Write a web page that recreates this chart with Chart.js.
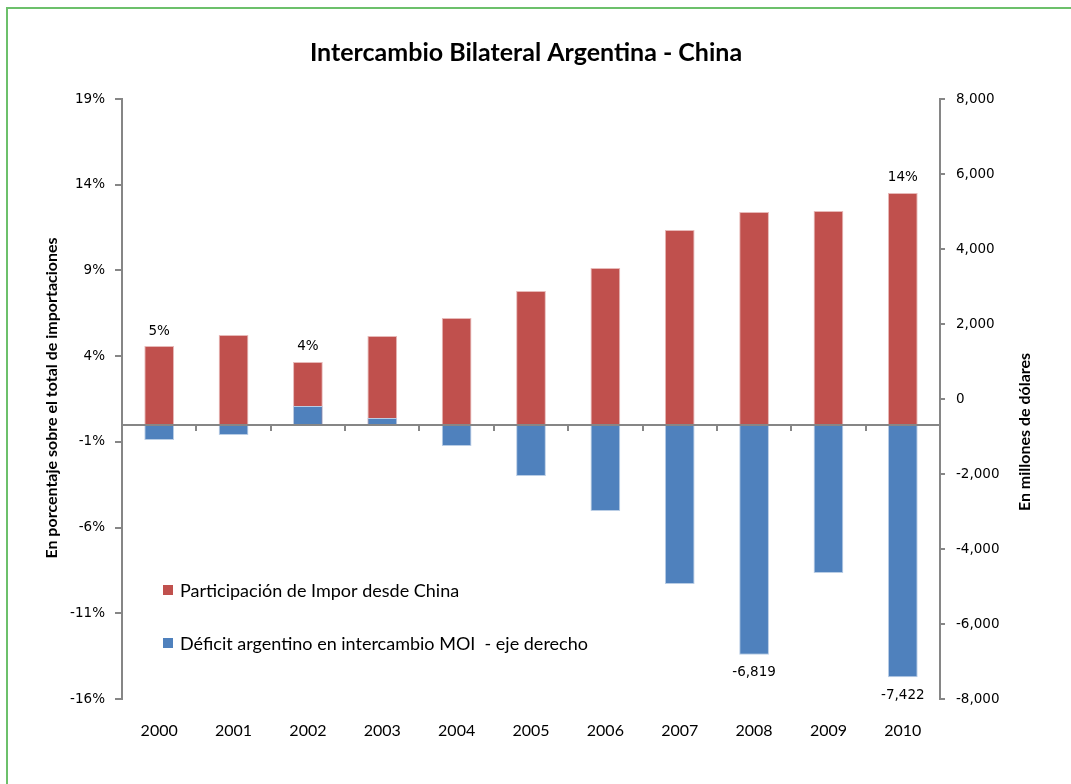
<!DOCTYPE html>
<html><head><meta charset="utf-8">
<script src="https://cdn.jsdelivr.net/npm/chart.js@4.4.1/dist/chart.umd.min.js"></script>
<style>html,body{margin:0;padding:0;background:#fff}#wrap{position:relative;width:1071px;height:784px}canvas{display:block}</style>
</head><body><div id="wrap"><canvas id="c" width="1071" height="784"></canvas></div>
<script>
const years = ['2000','2001','2002','2003','2004','2005','2006','2007','2008','2009','2010'];
const participacion = [4.59, 5.23, 3.66, 5.17, 6.22, 7.80, 9.14, 11.36, 12.41, 12.47, 13.52];
const deficit = [-1093, -960, -187, -507, -1253, -2053, -2987, -4933, -6819, -4640, -7422];
const leftTicks = [19, 14, 9, 4, -1, -6, -11, -16];
const rightTicks = [8000, 6000, 4000, 2000, 0, -2000, -4000, -6000, -8000];
const participacionLabels = ['5%', null, '4%', null, null, null, null, null, null, null, '14%'];
const deficitLabels = [null, null, null, null, null, null, null, null, '-6,819', null, '-7,422'];
const titleText = 'Intercambio Bilateral Argentina - China';
const leftTitle = 'En porcentaje sobre el total de importaciones';
const rightTitle = 'En millones de dólares';
const seriesNames = ['Participación de Impor desde China', 'Déficit argentino en intercambio MOI  - eje derecho'];

const RED = '#C0504D', BLUE = '#4F81BD', AXIS = '#868686';
const lMin = Math.min(...leftTicks), lMax = Math.max(...leftTicks);
const rMin = Math.min(...rightTicks), rMax = Math.max(...rightTicks);
// right-axis value sitting at the left axis' 0 (where the category axis crosses)
const blueBase = rMin + (0 - lMin) / (lMax - lMin) * (rMax - rMin);

const tickFont = {family: 'DejaVu Sans', size: 13.5};

const decor = {
  id: 'decor',
  beforeDraw(chart) {
    const ctx = chart.ctx;
    ctx.save();
    ctx.strokeStyle = '#6cc06b';
    ctx.lineWidth = 2;
    ctx.strokeRect(7, 8, 1200, 1000);
    ctx.restore();
  },
  afterDatasetsDraw(chart) {
    const ctx = chart.ctx, ca = chart.chartArea;
    const y = chart.scales.y;
    const zy = Math.round(y.getPixelForValue(0));
    ctx.save();
    ctx.strokeStyle = AXIS;
    ctx.lineWidth = 2;
    ctx.beginPath();
    ctx.moveTo(ca.left, zy); ctx.lineTo(ca.right, zy);
    const cw = (ca.right - ca.left) / years.length;
    for (let i = 1; i < years.length; i++) {
      const x = Math.round(ca.left + i * cw);
      ctx.moveTo(x, zy); ctx.lineTo(x, zy + 6);
    }
    ctx.stroke();

    ctx.fillStyle = '#000';
    ctx.font = '13.5px "DejaVu Sans"';
    ctx.textAlign = 'center';
    ctx.textBaseline = 'middle';
    const m0 = chart.getDatasetMeta(0), m1 = chart.getDatasetMeta(1);
    participacionLabels.forEach((t, i) => {
      if (!t) return;
      const el = m0.data[i];
      ctx.fillText(t, el.x, el.y - 15);
    });
    deficitLabels.forEach((t, i) => {
      if (!t) return;
      const el = m1.data[i];
      ctx.fillText(t, el.x, el.y + 18);
    });
    ctx.restore();
  },
  afterDraw(chart) {
    const ctx = chart.ctx;
    ctx.save();
    ctx.fillStyle = '#000';
    ctx.textAlign = 'center';
    ctx.textBaseline = 'middle';
    ctx.font = 'bold 25px Lato';
    ctx.fillText(titleText, 526, 53);

    ctx.font = 'bold 16px Lato';
    ctx.save();
    ctx.translate(52, 398);
    ctx.rotate(-Math.PI / 2);
    ctx.fillText(leftTitle, 0, 0);
    ctx.restore();
    ctx.save();
    ctx.translate(1025, 432);
    ctx.rotate(-Math.PI / 2);
    ctx.fillText(rightTitle, 0, 0);
    ctx.restore();

    ctx.textAlign = 'left';
    ctx.font = '18px Lato';
    const items = [[RED, seriesNames[0], 590], [BLUE, seriesNames[1], 643]];
    items.forEach(([c, t, yy]) => {
      ctx.fillStyle = c;
      ctx.fillRect(163, yy - 5, 10, 10);
      ctx.fillStyle = '#000';
      ctx.fillText(t, 180, yy + 1);
    });
    ctx.restore();
  }
};

new Chart(document.getElementById('c'), {
  type: 'bar',
  data: {
    labels: years,
    datasets: [
      {
        label: seriesNames[0], data: participacion, yAxisID: 'y',
        backgroundColor: RED, borderColor: '#e7b9b8', borderWidth: 1,
        grouped: false, order: 1, barPercentage: 0.4, categoryPercentage: 1
      },
      {
        label: seriesNames[1], data: deficit, yAxisID: 'y1', base: blueBase,
        backgroundColor: BLUE, borderColor: '#b9cde5', borderWidth: 1,
        grouped: false, order: 0, barPercentage: 0.4, categoryPercentage: 1
      }
    ]
  },
  options: {
    responsive: false,
    animation: false,
    layout: {padding: {top: 99, left: 0, right: 0, bottom: 0}},
    plugins: {legend: {display: false}, tooltip: {enabled: false}, title: {display: false}},
    scales: {
      x: {
        position: 'bottom',
        grid: {display: false, drawTicks: false},
        border: {display: false},
        ticks: {color: '#000', font: {family: 'Lato', size: 16}, padding: 22, maxRotation: 0},
        afterFit(s) { s.height = 85; }
      },
      y: {
        position: 'left', min: lMin, max: lMax,
        afterBuildTicks(s) { s.ticks = leftTicks.map(v => ({value: v})); },
        ticks: {color: '#000', font: tickFont, padding: 10, callback: v => v + '%'},
        grid: {drawOnChartArea: false, drawTicks: true, tickLength: 7, color: AXIS, lineWidth: 2},
        border: {display: true, color: AXIS, width: 2},
        afterFit(s) { s.width = 122; }
      },
      y1: {
        position: 'right', min: rMin, max: rMax,
        afterBuildTicks(s) { s.ticks = rightTicks.map(v => ({value: v})); },
        ticks: {color: '#000', font: tickFont, padding: 11, callback: v => v.toLocaleString('en-US')},
        grid: {drawOnChartArea: false, drawTicks: true, tickLength: 5, color: AXIS, lineWidth: 2},
        border: {display: true, color: AXIS, width: 2},
        afterFit(s) { s.width = 131; }
      }
    }
  },
  plugins: [decor]
});
</script>
</body></html>
